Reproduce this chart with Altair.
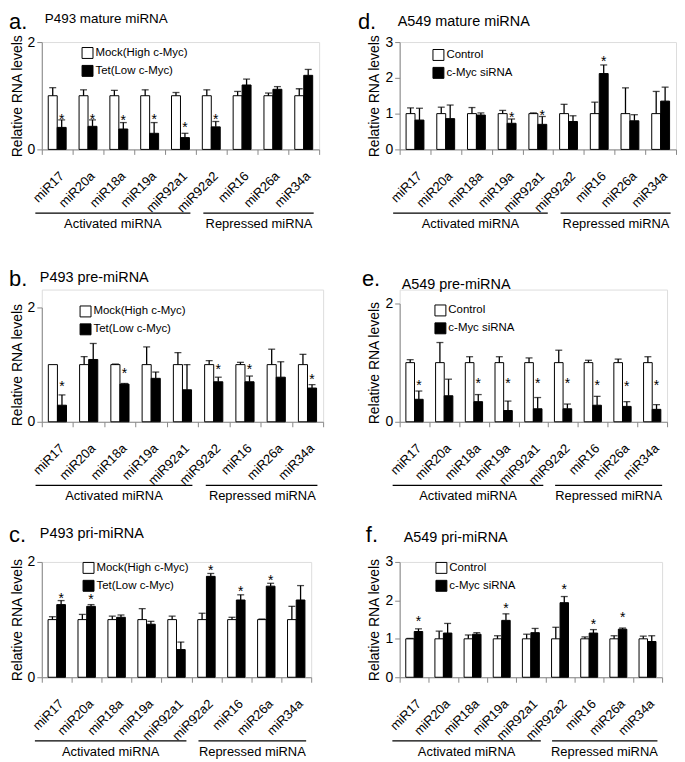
import altair as alt
import pandas as pd

FONT = "Liberation Sans"

categories = ["miR17", "miR20a", "miR18a", "miR19a", "miR92a1", "miR92a2", "miR16", "miR26a", "miR34a"]
group_names = ["Activated miRNA", "Repressed miRNA"]
group_first = ["miR17", "miR92a2"]
group_last = ["miR92a1", "miR34a"]
group_label_cat = ["miR18a", "miR26a"]

p493_conditions = ["Mock(High c-Myc)", "Tet(Low c-Myc)"]
a549_conditions = ["Control", "c-Myc siRNA"]

y_ticks_2 = [0, 1, 2]
y_ticks_3 = [0, 1, 2, 3]

# a. P493 mature miRNA
a_ctrl = [1.00, 1.00, 1.00, 1.00, 1.00, 1.00, 1.00, 1.00, 1.00]
a_ctrl_sd = [0.15, 0.11, 0.10, 0.11, 0.06, 0.11, 0.08, 0.05, 0.13]
a_trt = [0.41, 0.43, 0.38, 0.30, 0.22, 0.42, 1.20, 1.12, 1.38]
a_trt_sd = [0.14, 0.12, 0.12, 0.20, 0.08, 0.10, 0.11, 0.05, 0.11]
a_star = [0.63, 0.63, 0.60, 0.63, 0.48, 0.62, None, None, None]

# b. P493 pre-miRNA
b_ctrl = [1.00, 1.00, 1.00, 1.00, 1.00, 1.00, 1.00, 1.00, 1.00]
b_ctrl_sd = [0.00, 0.14, 0.01, 0.31, 0.21, 0.07, 0.04, 0.27, 0.18]
b_trt = [0.29, 1.09, 0.66, 0.76, 0.56, 0.70, 0.70, 0.78, 0.59]
b_trt_sd = [0.18, 0.28, 0.01, 0.11, 0.44, 0.08, 0.10, 0.27, 0.06]
b_star = [0.68, None, 0.90, None, None, 0.98, 0.98, None, 0.80]

# c. P493 pri-miRNA
c_ctrl = [1.00, 1.00, 1.00, 1.00, 1.00, 1.00, 1.00, 1.00, 1.00]
c_ctrl_sd = [0.05, 0.09, 0.06, 0.19, 0.06, 0.11, 0.04, 0.01, 0.23]
c_trt = [1.26, 1.23, 1.04, 0.92, 0.48, 1.75, 1.34, 1.58, 1.34]
c_trt_sd = [0.07, 0.03, 0.04, 0.05, 0.13, 0.05, 0.09, 0.05, 0.25]
c_star = [1.42, 1.41, None, None, None, 1.91, 1.54, 1.73, None]

# d. A549 mature miRNA
d_ctrl = [1.00, 1.00, 1.00, 1.00, 1.00, 1.00, 1.00, 1.00, 1.00]
d_ctrl_sd = [0.16, 0.18, 0.17, 0.09, 0.02, 0.26, 0.32, 0.72, 0.62]
d_trt = [0.82, 0.86, 0.96, 0.73, 0.70, 0.78, 2.12, 0.80, 1.35]
d_trt_sd = [0.33, 0.38, 0.06, 0.12, 0.22, 0.16, 0.24, 0.17, 0.39]
d_star = [None, None, None, 1.00, 1.05, None, 2.56, None, None]

# e. A549 pre-miRNA
e_ctrl = [1.00, 1.00, 1.00, 1.00, 1.00, 1.00, 1.00, 1.00, 1.00]
e_ctrl_sd = [0.05, 0.34, 0.10, 0.10, 0.08, 0.21, 0.04, 0.06, 0.10]
e_trt = [0.38, 0.44, 0.34, 0.19, 0.22, 0.22, 0.28, 0.26, 0.21]
e_trt_sd = [0.14, 0.28, 0.12, 0.16, 0.19, 0.08, 0.15, 0.08, 0.08]
e_star = [0.68, None, 0.70, 0.70, 0.70, 0.70, 0.68, 0.66, 0.68]

# f. A549 pri-miRNA
f_ctrl = [1.00, 1.00, 1.00, 1.00, 1.00, 1.00, 1.00, 1.00, 1.00]
f_ctrl_sd = [0.01, 0.20, 0.10, 0.08, 0.12, 0.30, 0.05, 0.08, 0.07]
f_trt = [1.19, 1.15, 1.12, 1.48, 1.16, 1.94, 1.15, 1.25, 0.93]
f_trt_sd = [0.07, 0.25, 0.04, 0.17, 0.11, 0.16, 0.09, 0.03, 0.15]
f_star = [1.53, None, None, 1.88, None, 2.38, 1.46, 1.64, None]

# layout / style (pixels), kept apart from the data
group_line_offsets = [(-22, 10), (-8, 10)]
group_label_dx = [-6, -14]


def make_panel(letter, title, conds, ymax, yticks, ctrl, ctrl_sd, trt, trt_sd, stars,
               width, cell_h, top, letter_pos, title_pos, title_size, letter_size, legend_pos,
               text_baseline=("alphabetic", "middle")):
    n = len(categories)
    bars = pd.DataFrame({
        "cat": categories * 2,
        "cond": [conds[0]] * n + [conds[1]] * n,
        "value": ctrl + trt,
        "sd": ctrl_sd + trt_sd,
    })
    bars["top"] = bars["value"] + bars["sd"]
    errs = bars[bars["sd"] > 0.005]
    star_df = pd.DataFrame({"cat": categories, "cond": [conds[1]] * n, "star": stars}).dropna()

    xscale = alt.Scale(domain=categories, paddingInner=0, paddingOuter=0)
    oscale = alt.Scale(domain=conds, paddingInner=0, paddingOuter=0.72)
    yscale = alt.Scale(domain=[0, ymax], range=[cell_h, top], nice=False)

    x_axis = alt.Axis(title=None, labelAngle=-45, labelFontSize=13, labelFont=FONT,
                      tickBand="extent", tickSize=5, labelPadding=15, labelOverlap=False,
                      labelColor="black")
    y_axis = alt.Axis(values=yticks, format="d", title="Relative RNA levels", titleFontSize=14,
                      titleFontWeight="normal", titleFont=FONT, titlePadding=3,
                      labelFontSize=14, labelFont=FONT, labelPadding=2, tickSize=5, grid=False)

    xo = alt.XOffset("cond:N", scale=oscale)
    xe = lambda f: alt.X(f, sort=categories, scale=xscale, axis=x_axis)
    ye = lambda f: alt.Y(f, scale=yscale, axis=y_axis)

    bar_layer = alt.Chart(bars).mark_bar(stroke="black", strokeWidth=1).encode(
        x=xe("cat:N"),
        xOffset=xo,
        y=ye("value:Q"),
        fill=alt.Fill("cond:N", scale=alt.Scale(domain=conds, range=["white", "black"]),
                      legend=alt.Legend(title=None, orient="none", legendX=legend_pos[0],
                                        legendY=legend_pos[1], symbolType="square",
                                        symbolSize=121, symbolStrokeColor="black",
                                        symbolStrokeWidth=1, labelFontSize=11.5,
                                        labelFont=FONT, labelOffset=2, rowPadding=2,
                                        padding=0, labelColor="black")),
    )

    err_rule = alt.Chart(errs).mark_rule(color="black", strokeWidth=1.3).encode(
        x=xe("cat:N"), xOffset=xo, y=ye("value:Q"), y2="top:Q")
    err_cap = alt.Chart(errs).mark_tick(color="black", thickness=1.3, size=7).encode(
        x=xe("cat:N"), xOffset=xo, y=ye("top:Q"))
    star_layer = alt.Chart(star_df).mark_text(text="*", fontSize=14, font=FONT,
                                              baseline="alphabetic", dy=8, color="black").encode(
        x=xe("cat:N"), xOffset=xo, y=ye("star:Q"))

    layers = [bar_layer, err_rule, err_cap, star_layer]

    for g in range(len(group_names)):
        gdf = pd.DataFrame({"cat": [group_first[g]], "last": [group_last[g]],
                            "label_at": [group_label_cat[g]], "name": [group_names[g]]})
        line = alt.Chart(gdf).mark_rule(color="black", strokeWidth=1.3,
                                        xOffset=group_line_offsets[g][0],
                                        x2Offset=group_line_offsets[g][1]).encode(
            x=alt.X("cat:N", sort=categories, scale=xscale, axis=x_axis, bandPosition=0.5),
            x2=alt.X2("last:N", bandPosition=0.5),
            y=alt.value(cell_h + 64))
        lab = alt.Chart(gdf).mark_text(fontSize=13, font=FONT, baseline="middle",
                                       dx=group_label_dx[g], color="black").encode(
            x=alt.X("label_at:N", sort=categories, scale=xscale, axis=x_axis),
            text="name:N",
            y=alt.value(cell_h + 75))
        layers += [line, lab]

    tdf = pd.DataFrame({"letter": [letter], "title": [title]})
    letter_layer = alt.Chart(tdf).mark_text(align="left", baseline=text_baseline[0],
                                            fontSize=letter_size, font=FONT, color="black").encode(
        text="letter:N", x=alt.value(letter_pos[0]), y=alt.value(top + letter_pos[1]))
    title_layer = alt.Chart(tdf).mark_text(align="left", baseline=text_baseline[1],
                                           fontSize=title_size, font=FONT, color="black").encode(
        text="title:N", x=alt.value(title_pos[0]), y=alt.value(top + title_pos[1]))
    layers += [letter_layer, title_layer]

    return alt.layer(*layers).properties(width=width, height=cell_h)


pa = make_panel("a.", "P493 mature miRNA", p493_conditions, 2, y_ticks_2,
                a_ctrl, a_ctrl_sd, a_trt, a_trt_sd, a_star,
                279, 108, 0, (-33, -30), (3, -30), 13.5, 22, (40, 5),
                text_baseline=("top", "top"))
pd_ = make_panel("d.", "A549 mature miRNA", a549_conditions, 3, y_ticks_3,
                 d_ctrl, d_ctrl_sd, d_trt, d_trt_sd, d_star,
                 278, 108, 0, (-42, -30), (-2, -27), 14.5, 22, (33, 7),
                 text_baseline=("top", "top"))
pb = make_panel("b.", "P493 pre-miRNA", p493_conditions, 2, y_ticks_2,
                b_ctrl, b_ctrl_sd, b_trt, b_trt_sd, b_star,
                283, 133, 18, (-33, -22), (-2, -30), 14.5, 22, (38, 18 - 2))
pe = make_panel("e.", "A549 pre-miRNA", a549_conditions, 2, y_ticks_2,
                e_ctrl, e_ctrl_sd, e_trt, e_trt_sd, e_star,
                269, 133, 14, (-38, -18), (2, -19), 14.5, 22, (35, 14 + 1))
pc = make_panel("c.", "P493 pri-miRNA", p493_conditions, 2, y_ticks_2,
                c_ctrl, c_ctrl_sd, c_trt, c_trt_sd, c_star,
                271, 116, 0, (-33, -20), (-2, -28), 14.5, 22, (41, 0))
pf = make_panel("f.", "A549 pri-miRNA", a549_conditions, 3, y_ticks_3,
                f_ctrl, f_ctrl_sd, f_trt, f_trt_sd, f_star,
                264, 116, 0, (-34, -20), (4, -24), 14.5, 22, (36, 0))

chart = alt.concat(
    pa, pd_, pb, pe, pc, pf, columns=2,
    spacing={"row": 141, "column": 77},
    bounds="flush",
).resolve_scale(
    fill="independent", x="independent", y="independent", xOffset="independent"
).resolve_legend(fill="independent").properties(
    padding={"left": 0, "top": 0, "right": 0, "bottom": 0}
).configure_view(strokeWidth=0, strokeOpacity=0).configure_axis(
    domainColor="black", tickColor="black", labelColor="black", titleColor="black",
    domainWidth=1.3, tickWidth=1.3, grid=False
).configure(font=FONT)

chart.save("out.html", embed_options={"renderer": "svg", "actions": False})
